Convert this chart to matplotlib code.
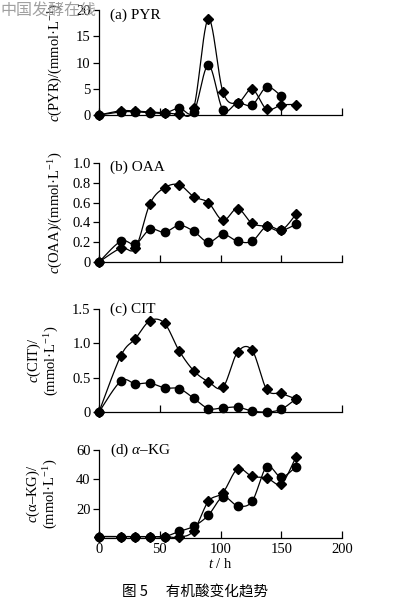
import numpy as np
import matplotlib
matplotlib.use("Agg")
import matplotlib.pyplot as plt

plt.rcParams['font.family'] = ['Liberation Serif', 'DejaVu Serif']
plt.rcParams['mathtext.fontset'] = 'custom'
plt.rcParams['mathtext.rm'] = 'Liberation Serif'
plt.rcParams['mathtext.it'] = 'Liberation Serif:italic'
plt.rcParams['font.size'] = 10

# ---------------- data ----------------
t = [0, 18, 30, 42, 54, 66, 78, 90, 102, 114, 126, 138, 150, 162]

pyr_diamond = [0, 0.8, 0.75, 0.55, 0.45, 0.25, 1.4, 18.3, 4.4, 2.3, 4.9, 1.1, 1.9, 2.0]
pyr_circle = [0, 0.6, 0.6, 0.45, 0.35, 1.3, 0.6, 9.5, 1.0, 2.3, 1.9, 5.3, 3.6]

oaa_diamond = [0, 0.14, 0.14, 0.59, 0.75, 0.78, 0.66, 0.60, 0.42, 0.54, 0.39, 0.36, 0.32, 0.48]
oaa_circle = [0, 0.21, 0.18, 0.33, 0.30, 0.37, 0.31, 0.20, 0.28, 0.21, 0.21, 0.36, 0.32, 0.38]

cit_diamond = [0, 0.82, 1.07, 1.33, 1.29, 0.89, 0.60, 0.44, 0.36, 0.87, 0.90, 0.33, 0.27, 0.19]
cit_circle = [0, 0.45, 0.41, 0.42, 0.35, 0.34, 0.20, 0.05, 0.06, 0.07, 0.015, 0.0, 0.04, 0.19]

akg_diamond = [1, 1, 1, 1, 1, 0.5, 5, 25, 31, 47, 42, 41, 37, 55]
akg_circle = [1, 1, 1, 1, 1, 4.5, 8, 15.5, 28, 22, 25, 48.5, 41.5, 48.5]

xticks = [0, 50, 100, 150, 200]
ylims = [(0, 20), (0, 1.0), (0, 1.5), (0, 60)]
yticks = [[0, 5, 10, 15, 20], [0, 0.2, 0.4, 0.6, 0.8, 1.0], [0, 0.5, 1.0, 1.5], [20, 40, 60]]
yticklabels = [['0', '5', '10', '15', '20'], ['0', '0.2', '0.4', '0.6', '0.8', '1.0'],
               ['0', '0.5', '1.0', '1.5'], ['20', '40', '60']]
titles = ['(a) PYR', '(b) OAA', '(c) CIT', r'(d) $\alpha$–KG']
ylabels = [r'$c$(PYR)/(mmol·L$^{-1}$)', r'$c$(OAA)/(mmol·L$^{-1}$)',
           '$c$(CIT)/\n(mmol·L$^{-1}$)', r'$c$(α–KG)/' + '\n(mmol·L$^{-1}$)']


def smooth(x, y, n=24):
    x = np.asarray(x, float)
    y = np.asarray(y, float)
    P = np.column_stack([x, y])
    P = np.vstack([P[0], P, P[-1]])
    out = []
    s = np.linspace(0, 1, n, endpoint=False)[:, None]
    for i in range(1, len(P) - 2):
        p0, p1, p2, p3 = P[i - 1], P[i], P[i + 1], P[i + 2]
        seg = 0.5 * ((2 * p1) + (-p0 + p2) * s + (2 * p0 - 5 * p1 + 4 * p2 - p3) * s ** 2
                     + (-p0 + 3 * p1 - 3 * p2 + p3) * s ** 3)
        out.append(seg)
    out.append(P[-2][None, :])
    out = np.vstack(out)
    return out[:, 0], out[:, 1]


W, H = 397, 606
fig = plt.figure(figsize=(W / 100, H / 100), dpi=100)

boxes = [(10, 115), (163, 262), (309, 412), (450, 538)]
left, right = 99, 342
series = [(pyr_diamond, pyr_circle), (oaa_diamond, oaa_circle),
          (cit_diamond, cit_circle), (akg_diamond, akg_circle)]
title_dy = [-5, -4, 0, 0]
label_x = [-0.14, -0.14, -0.155, -0.16]

for k, (top, bot) in enumerate(boxes):
    ax = fig.add_axes([left / W, 1 - bot / H, (right - left) / W, (bot - top) / H])
    dia, cir = series[k]
    for vals, mk, ms in [(cir, 'o', 6.0), (dia, 'D', 5.2)]:
        tt = t[:len(vals)]
        sx, sy = smooth(tt, vals)
        ax.plot(sx, sy, color='black', lw=0.9, clip_on=False, zorder=2)
        ax.plot(tt, vals, ls='none', marker=mk, ms=ms, color='black', clip_on=False, zorder=3)
    ax.set_xlim(0, 200)
    ax.set_ylim(*ylims[k])
    ax.spines['top'].set_visible(False)
    ax.spines['right'].set_visible(False)
    for sp in ('left', 'bottom'):
        ax.spines[sp].set_linewidth(0.9)
    ax.set_xticks(xticks)
    ax.tick_params(axis='x', direction='in', length=5, width=0.9, labelsize=10.5)
    ax.tick_params(axis='y', direction='out', length=4, width=0.9, labelsize=10.5, pad=2)
    ax.set_yticks(yticks[k])
    ax.set_yticklabels(yticklabels[k])
    if k < 3:
        ax.set_xticklabels([])
    else:
        ax.set_xlabel('$t$ / h', fontsize=10.5, labelpad=1)
    ax.set_ylabel(ylabels[k], fontsize=10.5, linespacing=1.0)
    ax.yaxis.set_label_coords(label_x[k], 0.5)
    ax.text(0.045, 1.0 + title_dy[k] / (bot - top), titles[k], transform=ax.transAxes,
            fontsize=11, va='center', ha='left')

fig.text(0.0, 1 - 10 / H, '中国发酵在线', fontsize=11.5, color='#a0a0a0',
         family=['Noto Sans CJK SC'], va='center', ha='left', zorder=10)
fig.text(195 / W, 1 - 593 / H, '图 5　 有机酸变化趋势', fontsize=10.5,
         family=['Noto Sans CJK SC', 'DejaVu Sans'], va='center', ha='center')

fig.savefig('out.png', dpi=100)
